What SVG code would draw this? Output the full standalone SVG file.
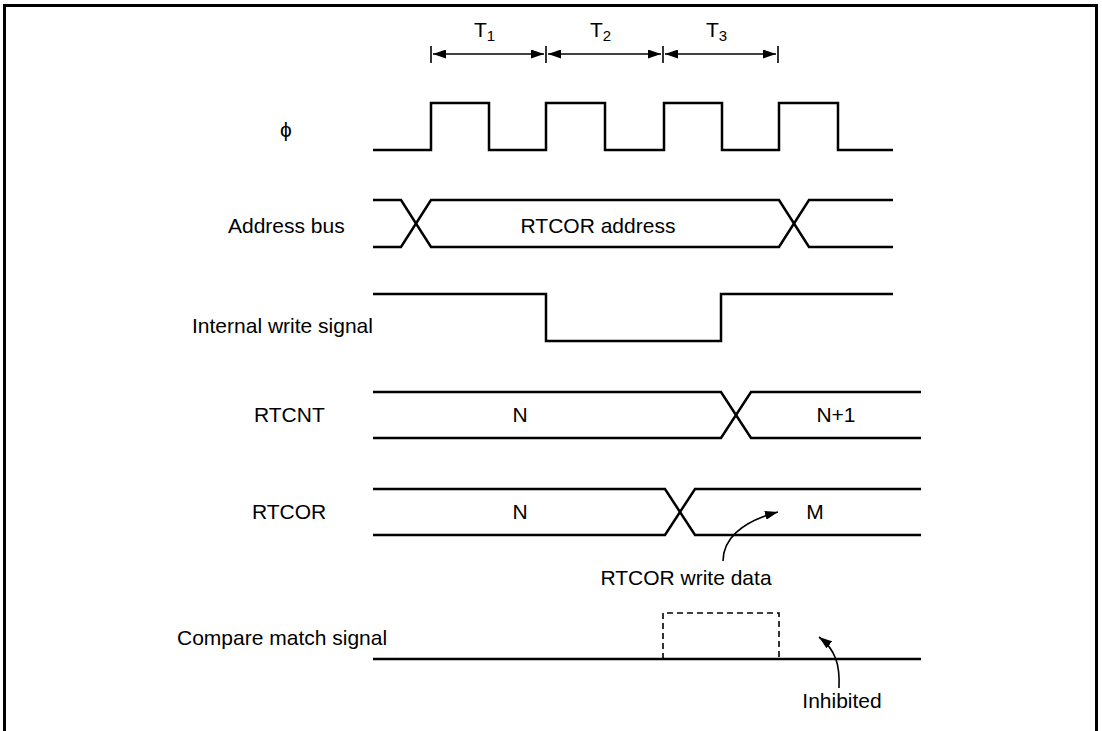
<svg xmlns="http://www.w3.org/2000/svg" width="1102" height="731" viewBox="0 0 1102 731">
<style>
  .w { fill: none; stroke: #000; stroke-width: 2.5; stroke-linejoin: miter; }
  .thin { fill: none; stroke: #000; stroke-width: 1.6; }
  .dash { fill: none; stroke: #000; stroke-width: 1.6; stroke-dasharray: 6 4; }
  text { font-family: "Liberation Sans", Arial, sans-serif; font-size: 21px; fill: #000; }
  .sub { font-size: 15px; }
  .mid { text-anchor: middle; }
</style>
<defs>
  <marker id="ah" viewBox="0 0 13 9" refX="13" refY="4.5" markerWidth="13" markerHeight="9" markerUnits="userSpaceOnUse" orient="auto-start-reverse">
    <path d="M0,0 L13,4.5 L0,9 Z" fill="#000"/>
  </marker>
</defs>
<rect x="4.5" y="5.5" width="1092" height="740" fill="#fff" stroke="#000" stroke-width="3"/>

<g id="timing">
  <g class="thin">
    <line x1="431" y1="46" x2="431" y2="63"/>
    <line x1="546" y1="46" x2="546" y2="63"/>
    <line x1="663" y1="46" x2="663" y2="63"/>
    <line x1="778" y1="46" x2="778" y2="63"/>
  </g>
  <line class="thin" x1="433" y1="54" x2="544" y2="54" marker-start="url(#ah)" marker-end="url(#ah)"/>
  <line class="thin" x1="548" y1="54" x2="661" y2="54" marker-start="url(#ah)" marker-end="url(#ah)"/>
  <line class="thin" x1="665" y1="54" x2="776" y2="54" marker-start="url(#ah)" marker-end="url(#ah)"/>
  <text x="474" y="37">T<tspan class="sub" dy="4">1</tspan></text>
  <text x="590" y="37">T<tspan class="sub" dy="4">2</tspan></text>
  <text x="706" y="37">T<tspan class="sub" dy="4">3</tspan></text>
</g>

<g id="clock">
  <text x="286" y="137" class="mid">ϕ</text>
  <path class="w" d="M373,150 H431 V103 H489 V150 H546 V103 H605 V150 H664 V103 H722 V150 H779 V103 H838 V150 H893"/>
</g>

<g id="address-bus">
  <text x="228" y="233">Address bus</text>
  <path class="w" d="M373,200 H401 L431,247 H779 L809,200 H893"/>
  <path class="w" d="M373,247 H401 L431,200 H779 L809,247 H893"/>
  <text x="598" y="233" class="mid">RTCOR address</text>
</g>

<g id="write-signal">
  <text x="192" y="333">Internal write signal</text>
  <path class="w" d="M373,294 H546 V341 H721 V294 H893"/>
</g>

<g id="rtcnt">
  <text x="254" y="422">RTCNT</text>
  <path class="w" d="M373,392 H721 L751,438 H921"/>
  <path class="w" d="M373,438 H721 L751,392 H921"/>
  <text x="520" y="422" class="mid">N</text>
  <text x="836" y="422" class="mid">N+1</text>
</g>

<g id="rtcor">
  <text x="252" y="519">RTCOR</text>
  <path class="w" d="M373,489 H665 L695,535 H921"/>
  <path class="w" d="M373,535 H665 L695,489 H921"/>
  <text x="520" y="519" class="mid">N</text>
  <text x="815" y="519" class="mid">M</text>
  <text x="686" y="585" class="mid">RTCOR write data</text>
</g>

<g id="compare-match">
  <text x="177" y="645">Compare match signal</text>
  <line class="w" x1="373" y1="659" x2="921" y2="659"/>
  <path class="dash" d="M663,659 V613 H779 V659"/>
  <text x="842" y="708" class="mid">Inhibited</text>
</g>

<g id="connectors">
  <path class="thin" d="M723,561 C723,540 740,522 778,512" marker-end="url(#ah)"/>
  <path class="thin" d="M839,688 C840,665 836,650 819,637" marker-end="url(#ah)"/>
</g>
</svg>
